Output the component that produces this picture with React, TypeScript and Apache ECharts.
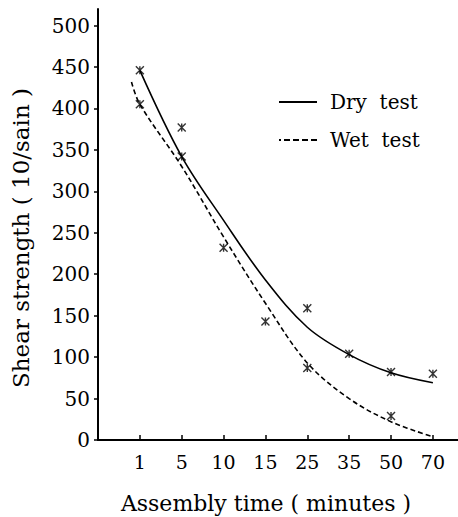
import React, { useEffect, useRef } from 'react';
import * as echarts from 'echarts';

// Assembly time categories (minutes) placed evenly along the x axis
const categories = ['1', '5', '10', '15', '25', '35', '50', '70'];
// Y tick labels
const yTickValues = [0, 50, 100, 150, 200, 250, 300, 350, 400, 450, 500];

// Fitted curves (value at each category)
const dryCurve = [446, 342, 265, 193, 136, 103, 81, 69];
const wetCurve = [405, 330, 245, 165, 93, 50, 22, 4];
// Wet curve begins slightly before the first category
const wetCurveLeadPos = 0.8;
const wetCurveLeadValue = 432;

// Measured points
const dryPoints: [string, number][] = [
  ['1', 446], ['5', 377], ['25', 159], ['35', 104], ['50', 82], ['70', 80],
];
const wetPoints: [string, number][] = [
  ['1', 405], ['5', 342], ['10', 232], ['15', 143], ['25', 87], ['50', 29],
];

const FONT = '"DejaVu Serif", "Liberation Serif", serif';
const pos = (c: string) => categories.indexOf(c) + 1;
const crossSymbol = 'path://M0 0L10 10M10 0L0 10M5 0L5 10';
const solidIcon = 'path://M0 0H38V1.8H0Z';
const dashedIcon =
  'path://M0 0H2V1.8H0Z M5 0H11V1.8H5Z M14 0H20V1.8H14Z M23 0H29V1.8H23Z M32 0H38V1.8H32Z';

export default function App() {
  const ref = useRef<HTMLDivElement>(null);
  useEffect(() => {
    if (!ref.current) return;
    const chart = echarts.init(ref.current, null, { renderer: 'svg' });
    const catPositions = categories.map((_, i) => i + 1);
    chart.setOption({
      animation: false,
      backgroundColor: '#fff',
      textStyle: { fontFamily: FONT, color: '#000' },
      grid: { left: 98, right: 0, top: 9, bottom: 77 },
      legend: {
        orient: 'vertical',
        left: 279,
        top: 92,
        padding: 0,
        itemWidth: 38,
        itemHeight: 20,
        itemGap: 18,
        data: [
          { name: 'Dry test', icon: solidIcon },
          { name: 'Wet test', icon: dashedIcon },
        ],
        formatter: (n: string) => n.replace(' ', '  '),
        textStyle: { fontFamily: FONT, fontSize: 20, color: '#000', padding: [0, 0, 0, 8] },
      },
      xAxis: {
        type: 'value',
        min: 0,
        max: 8.6,
        interval: 1,
        axisLine: { show: true, onZero: false, lineStyle: { color: '#000', width: 2 } },
        axisTick: {
          show: true, inside: true, length: 5,
          lineStyle: { color: '#000', width: 1.5 },
          customValues: catPositions,
        },
        axisLabel: {
          customValues: catPositions,
          formatter: (v: number) => categories[Math.round(v) - 1] ?? '',
          fontFamily: FONT, fontSize: 19, color: '#000', margin: 12,
        },
        splitLine: { show: false },
      },
      yAxis: {
        type: 'value',
        min: 0,
        max: 520,
        interval: 50,
        axisLine: { show: true, lineStyle: { color: '#000', width: 2 } },
        axisTick: {
          show: true, inside: false, length: 4,
          lineStyle: { color: '#000', width: 1.5 },
          customValues: yTickValues,
        },
        axisLabel: {
          customValues: yTickValues,
          fontFamily: FONT, fontSize: 20, color: '#000', margin: 8,
        },
        splitLine: { show: false },
      },
      series: [
        {
          name: 'Dry test',
          type: 'line',
          smooth: 0.35,
          symbol: 'none',
          lineStyle: { color: '#000', width: 1.6, type: 'solid' },
          itemStyle: { color: '#000' },
          data: dryCurve.map((v, i) => [i + 1, v]),
        },
        {
          name: 'Wet test',
          type: 'line',
          smooth: 0.35,
          symbol: 'none',
          lineStyle: { color: '#000', width: 1.6, type: [5, 3] },
          itemStyle: { color: '#000' },
          data: [[wetCurveLeadPos, wetCurveLeadValue], ...wetCurve.map((v, i) => [i + 1, v])],
        },
        {
          name: 'Dry points',
          type: 'scatter',
          symbol: crossSymbol,
          symbolSize: 8,
          itemStyle: { color: 'transparent', borderColor: '#000', borderWidth: 1.4 },
          data: dryPoints.map(([c, v]) => [pos(c), v]),
        },
        {
          name: 'Wet points',
          type: 'scatter',
          symbol: crossSymbol,
          symbolSize: 8,
          itemStyle: { color: 'transparent', borderColor: '#000', borderWidth: 1.4 },
          data: wetPoints.map(([c, v]) => [pos(c), v]),
        },
      ],
      graphic: [
        {
          type: 'text',
          x: 21,
          y: 238,
          rotation: Math.PI / 2,
          style: {
            text: 'Shear strength ( 10/sain )',
            fontFamily: FONT, fontSize: 23, fill: '#000',
            align: 'center', verticalAlign: 'middle',
          },
        },
        {
          type: 'text',
          x: 266,
          y: 503,
          style: {
            text: 'Assembly time ( minutes )',
            fontFamily: FONT, fontSize: 22, fill: '#000',
            align: 'center', verticalAlign: 'middle',
          },
        },
      ],
    });
    return () => chart.dispose();
  }, []);
  return (
    <div
      ref={ref}
      style={{ position: 'fixed', left: 0, top: 0, width: 458, height: 517, background: '#fff' }}
    />
  );
}
